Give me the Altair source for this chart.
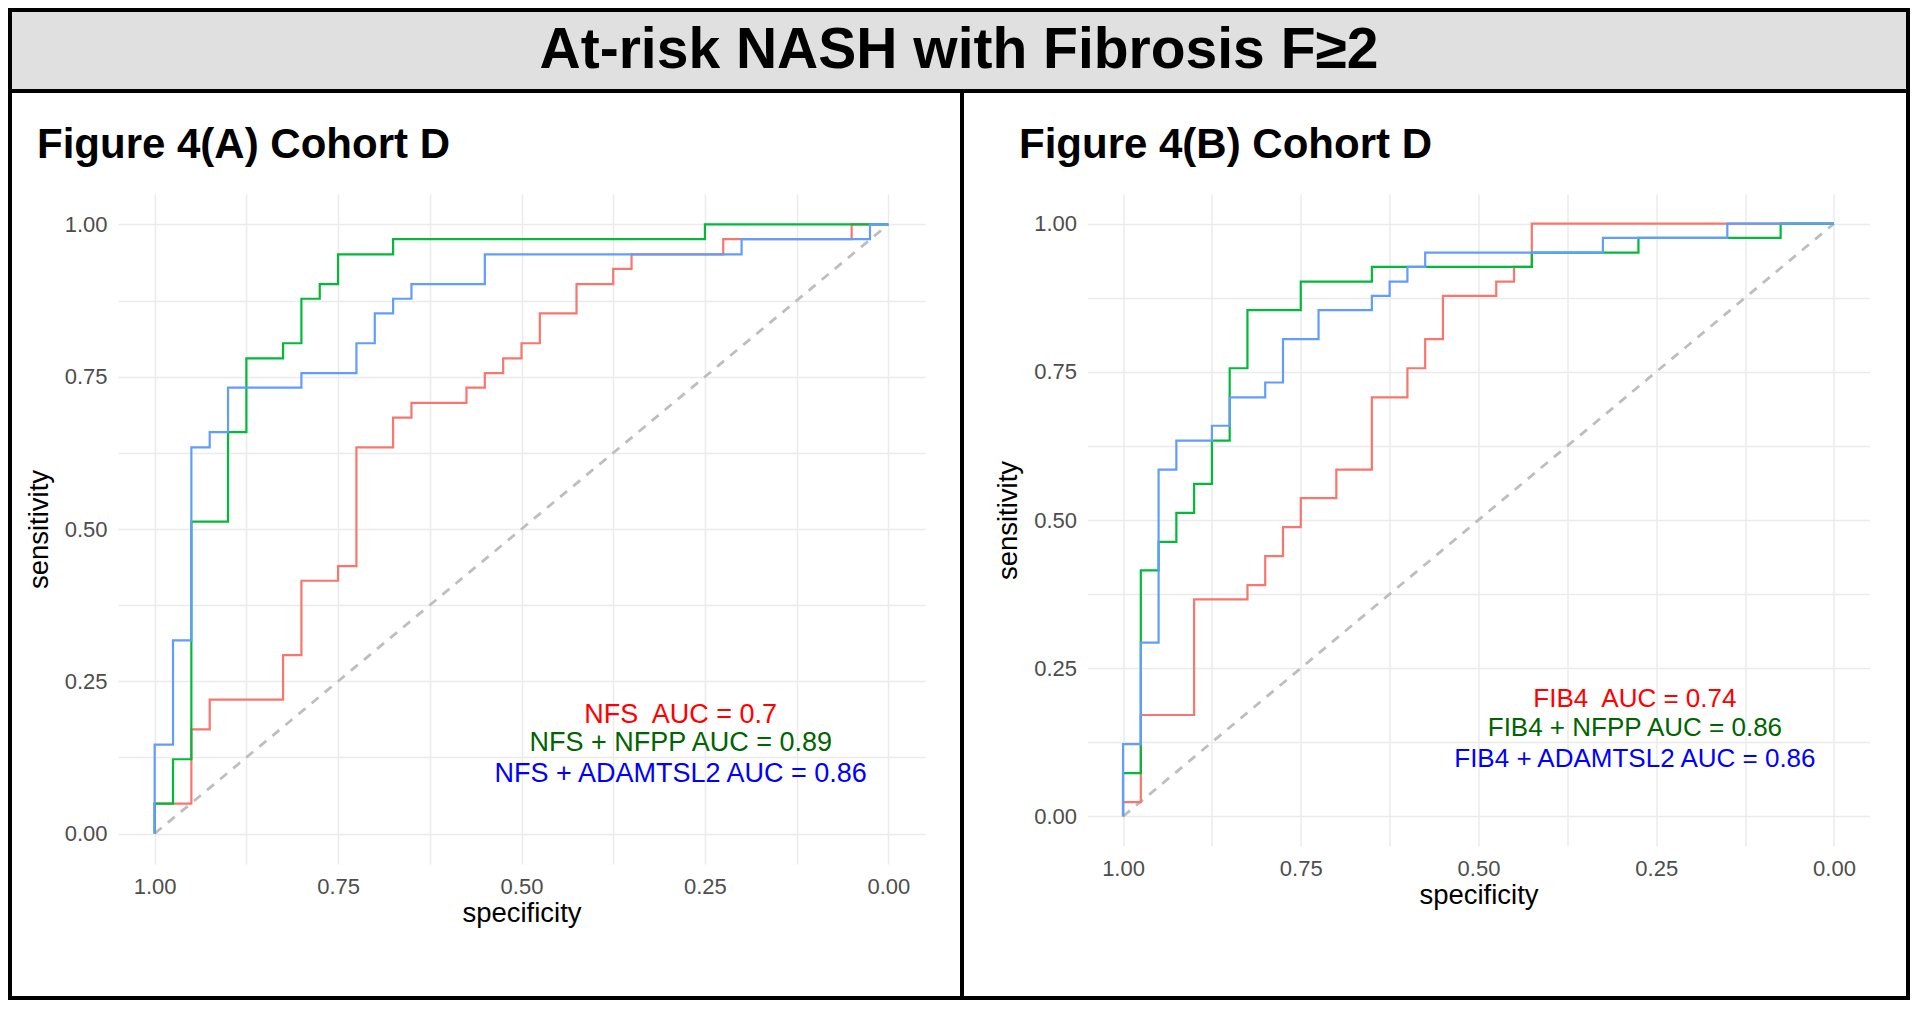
import altair as alt
import pandas as pd

FONT = "Liberation Sans, Arial, Helvetica, sans-serif"

# ---------------- data (specificity, sensitivity) step vertices ----------------
NFS = [(1.000, 0.000), (1.000, 0.049), (0.950, 0.049), (0.950, 0.171), (0.925, 0.171),
       (0.925, 0.220), (0.825, 0.220), (0.825, 0.293), (0.800, 0.293), (0.800, 0.415),
       (0.750, 0.415), (0.750, 0.439), (0.725, 0.439), (0.725, 0.634), (0.675, 0.634),
       (0.675, 0.683), (0.650, 0.683), (0.650, 0.707), (0.575, 0.707), (0.575, 0.732),
       (0.550, 0.732), (0.550, 0.756), (0.525, 0.756), (0.525, 0.780), (0.500, 0.780),
       (0.500, 0.805), (0.475, 0.805), (0.475, 0.854), (0.425, 0.854), (0.425, 0.902),
       (0.375, 0.902), (0.375, 0.927), (0.350, 0.927), (0.350, 0.951), (0.225, 0.951),
       (0.225, 0.976), (0.050, 0.976), (0.050, 1.000), (0.000, 1.000)]

NFS_NFPP = [(1.000, 0.000), (1.000, 0.049), (0.975, 0.049), (0.975, 0.122), (0.950, 0.122),
            (0.950, 0.512), (0.900, 0.512), (0.900, 0.659), (0.875, 0.659), (0.875, 0.780),
            (0.825, 0.780), (0.825, 0.805), (0.800, 0.805), (0.800, 0.878), (0.775, 0.878),
            (0.775, 0.902), (0.750, 0.902), (0.750, 0.951), (0.675, 0.951), (0.675, 0.976),
            (0.250, 0.976), (0.250, 1.000), (0.000, 1.000)]

NFS_ADAM = [(1.000, 0.000), (1.000, 0.146), (0.975, 0.146), (0.975, 0.317), (0.950, 0.317),
            (0.950, 0.634), (0.925, 0.634), (0.925, 0.659), (0.900, 0.659), (0.900, 0.732),
            (0.800, 0.732), (0.800, 0.756), (0.725, 0.756), (0.725, 0.805), (0.700, 0.805),
            (0.700, 0.854), (0.675, 0.854), (0.675, 0.878), (0.650, 0.878), (0.650, 0.902),
            (0.550, 0.902), (0.550, 0.951), (0.200, 0.951), (0.200, 0.976), (0.025, 0.976),
            (0.025, 1.000), (0.000, 1.000)]

FIB4 = [(1.000, 0.000), (1.000, 0.024), (0.975, 0.024), (0.975, 0.171), (0.900, 0.171),
        (0.900, 0.366), (0.825, 0.366), (0.825, 0.390), (0.800, 0.390), (0.800, 0.439),
        (0.775, 0.439), (0.775, 0.488), (0.750, 0.488), (0.750, 0.537), (0.700, 0.537),
        (0.700, 0.585), (0.650, 0.585), (0.650, 0.707), (0.600, 0.707), (0.600, 0.756),
        (0.575, 0.756), (0.575, 0.805), (0.550, 0.805), (0.550, 0.878), (0.475, 0.878),
        (0.475, 0.902), (0.450, 0.902), (0.450, 0.927), (0.425, 0.927), (0.425, 1.000),
        (0.000, 1.000)]

FIB4_NFPP = [(1.000, 0.000), (1.000, 0.073), (0.975, 0.073), (0.975, 0.415), (0.950, 0.415),
             (0.950, 0.463), (0.925, 0.463), (0.925, 0.512), (0.900, 0.512), (0.900, 0.561),
             (0.875, 0.561), (0.875, 0.634), (0.850, 0.634), (0.850, 0.756), (0.825, 0.756),
             (0.825, 0.854), (0.750, 0.854), (0.750, 0.902), (0.650, 0.902), (0.650, 0.927),
             (0.425, 0.927), (0.425, 0.951), (0.275, 0.951), (0.275, 0.976), (0.075, 0.976),
             (0.075, 1.000), (0.000, 1.000)]

FIB4_ADAM = [(1.000, 0.000), (1.000, 0.122), (0.975, 0.122), (0.975, 0.293), (0.950, 0.293),
             (0.950, 0.585), (0.925, 0.585), (0.925, 0.634), (0.875, 0.634), (0.875, 0.659),
             (0.850, 0.659), (0.850, 0.707), (0.800, 0.707), (0.800, 0.732), (0.775, 0.732),
             (0.775, 0.805), (0.725, 0.805), (0.725, 0.854), (0.650, 0.854), (0.650, 0.878),
             (0.625, 0.878), (0.625, 0.902), (0.600, 0.902), (0.600, 0.927), (0.575, 0.927),
             (0.575, 0.951), (0.325, 0.951), (0.325, 0.976), (0.150, 0.976), (0.150, 1.000),
             (0.000, 1.000)]

DIAG = [(1.0, 0.0), (0.0, 1.0)]

LABELS_A = ["NFS\u00a0 AUC = 0.7", "NFS + NFPP AUC = 0.89", "NFS + ADAMTSL2 AUC = 0.86"]
LABELS_B = ["FIB4\u00a0 AUC = 0.74", "FIB4 + NFPP AUC = 0.86", "FIB4 + ADAMTSL2 AUC = 0.86"]

MAIN_TITLE = "At-risk NASH with Fibrosis F\u22652"
TITLE_A = "Figure 4(A) Cohort D"
TITLE_B = "Figure 4(B) Cohort D"

GRID_VALUES = [0.0, 0.125, 0.25, 0.375, 0.5, 0.625, 0.75, 0.875, 1.0]

# ---------------- styles / layout ----------------
LINE_COLORS = ["#F8766D", "#00BA38", "#619CFF"]
TEXT_COLORS = ["#FF0000", "#006400", "#0000FF"]
# annotation positions in data units (spec, sens of text baseline)
ANN_A = (0.283, [0.182, 0.135, 0.084])
ANN_B = (0.280, [0.184, 0.135, 0.084])


def pts_df(pts):
    return pd.DataFrame({"spec": [p[0] for p in pts],
                         "sens": [p[1] for p in pts],
                         "idx": list(range(len(pts)))})


XS = alt.Scale(domain=[-0.05, 1.05], reverse=True, nice=False, zero=False)
YS = alt.Scale(domain=[-0.05, 1.05], nice=False, zero=False)
LABEL_EXPR = "datum.value % 0.25 == 0 ? format(datum.value, '.2f') : ''"


def axis(title, label_pad, title_pad):
    return alt.Axis(title=title, values=GRID_VALUES, labelExpr=LABEL_EXPR,
                    grid=True, gridColor="#EBEBEB", gridWidth=1.5,
                    domain=False, ticks=False, tickSize=0,
                    labelFont=FONT, labelFontSize=22, labelColor="#4D4D4D",
                    labelPadding=label_pad, labelOverlap=False, labelFlush=False,
                    titleFont=FONT, titleFontSize=27.5, titleFontWeight="normal",
                    titleColor="#000000", titlePadding=title_pad)


def enc():
    return dict(x=alt.X("spec:Q", scale=XS, axis=axis("specificity", 12, 2)),
                y=alt.Y("sens:Q", scale=YS, axis=axis("sensitivity", 11, 11)))


def one_row():
    return alt.Data(values=[{"k": 1}])


def rect(x0, x1, y0, y1, color):
    return alt.Chart(one_row()).mark_rect(color=color).encode(
        x=alt.value(x0), x2=alt.value(x1), y=alt.value(y0), y2=alt.value(y1))


def text(x, y, s, size, weight="normal", align="left", color="#000000"):
    return alt.Chart(one_row()).mark_text(
        text=s, font=FONT, fontSize=size, fontWeight=weight, align=align,
        baseline="alphabetic", color=color).encode(x=alt.value(x), y=alt.value(y))


def panel(curves, labels, ann, font_size, title, title_xy, w, h, extra=()):
    layers = list(extra)
    layers.append(
        alt.Chart(pts_df(DIAG)).mark_line(color="#BEBEBE", strokeWidth=2.8,
                                          strokeDash=[9, 8]).encode(order="idx:Q", **enc()))
    for pts, col in zip(curves, LINE_COLORS):
        layers.append(alt.Chart(pts_df(pts)).mark_line(color=col, strokeWidth=2.2).encode(
            order="idx:Q", **enc()))
    ax, ys = ann
    for lab, yv, col in zip(labels, ys, TEXT_COLORS):
        df = pd.DataFrame({"spec": [ax], "sens": [yv]})
        layers.append(alt.Chart(df).mark_text(
            text=lab, font=FONT, fontSize=font_size, align="center",
            baseline="alphabetic", color=col).encode(**enc()))
    layers.append(text(title_xy[0], title_xy[1], title, 42, weight="bold"))
    return alt.layer(*layers).properties(width=w, height=h)


# frame and title band, in pixels relative to panel A's plot origin
frame = [
    rect(-106, 1788, -182, -105, "#E0E0E0"),   # title band fill
    rect(-110, -106, -186, 806, "#000000"),    # left border
    rect(1788, 1792, -186, 806, "#000000"),    # right border
    rect(-110, 1792, -186, -182, "#000000"),   # top border
    rect(-110, 1792, 802, 806, "#000000"),     # bottom border
    rect(-110, 1792, -105, -101, "#000000"),   # band bottom border
    rect(842, 846, -101, 802, "#000000"),      # panel divider
    text(841, -126, MAIN_TITLE, 57, weight="bold", align="center"),
]

panel_a = panel([NFS, NFS_NFPP, NFS_ADAM], LABELS_A, ANN_A, 27, TITLE_A, (-81, -36),
                807, 670, extra=frame)
panel_b = panel([FIB4, FIB4_NFPP, FIB4_ADAM], LABELS_B, ANN_B, 26, TITLE_B, (-68.5, -36),
                782, 652)

chart = alt.hconcat(panel_a, panel_b, spacing=162.5, bounds="flush").resolve_scale(
    x="independent", y="independent"
).properties(padding=0, background="#FFFFFF").configure_view(stroke=None)

chart.save("out.html", embed_options={"renderer": "svg", "actions": False})
